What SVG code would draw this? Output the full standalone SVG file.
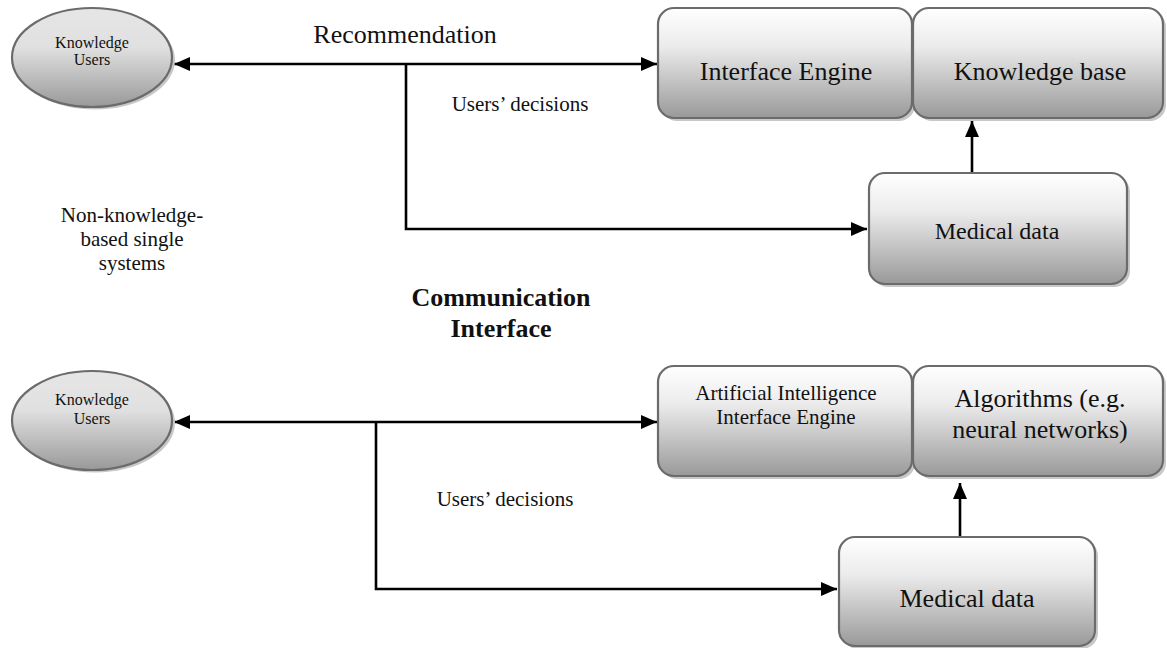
<svg xmlns="http://www.w3.org/2000/svg" width="1167" height="648" viewBox="0 0 1167 648">
<style>
.box{stroke:#6b6b6b;stroke-width:2.2;fill:url(#g)}
.ell{stroke:#6b6b6b;stroke-width:2.2;fill:url(#ge)}
.sh{fill:#c8c8c8}
.t{font-family:"Liberation Serif","Times New Roman",serif;fill:#111;text-anchor:middle}
.c{fill:none;stroke:#000;stroke-width:2.6}
</style>
<defs>
<linearGradient id="g" x1="0" y1="0" x2="0" y2="1">
<stop offset="0" stop-color="#ffffff"/><stop offset="0.35" stop-color="#ebebeb"/><stop offset="1" stop-color="#999999"/>
</linearGradient>
<linearGradient id="ge" x1="0" y1="0" x2="0" y2="1">
<stop offset="0" stop-color="#e6e6e6"/><stop offset="0.4" stop-color="#e0e0e0"/><stop offset="1" stop-color="#999999"/>
</linearGradient>
<marker id="a" markerUnits="userSpaceOnUse" markerWidth="16" markerHeight="14" refX="16" refY="7" orient="auto-start-reverse">
<path d="M0,0 L16,7 L0,14 z" fill="#000"/>
</marker>
</defs>
<rect width="1167" height="648" fill="#fff"/>

<g id="connectors">
<line class="c" x1="174" y1="64" x2="657" y2="64" marker-start="url(#a)" marker-end="url(#a)"/>
<polyline class="c" points="406,64 406,229 867,229" marker-end="url(#a)"/>
<line class="c" x1="972" y1="173" x2="972" y2="121" marker-end="url(#a)"/>
<line class="c" x1="174" y1="422" x2="657" y2="422" marker-start="url(#a)" marker-end="url(#a)"/>
<polyline class="c" points="376,422 376,589 837,589" marker-end="url(#a)"/>
<line class="c" x1="960" y1="537" x2="960" y2="483" marker-end="url(#a)"/>
</g>

<g id="top-users">
<ellipse class="sh" cx="95" cy="60" rx="80" ry="49.5"/>
<ellipse class="ell" cx="92" cy="57.5" rx="80" ry="49.5"/>
<text class="t" x="92" y="48" font-size="16">Knowledge</text>
<text class="t" x="92" y="65" font-size="16">Users</text>
</g>

<g id="interface-engine">
<rect class="sh" x="661" y="11" width="254" height="110" rx="16"/>
<rect class="box" x="658" y="8" width="254" height="110" rx="16"/>
<text class="t" x="786" y="80" font-size="26">Interface Engine</text>
</g>

<g id="knowledge-base">
<rect class="sh" x="916" y="11" width="250" height="110" rx="16"/>
<rect class="box" x="913" y="8" width="250" height="110" rx="16"/>
<text class="t" x="1040" y="80" font-size="26">Knowledge base</text>
</g>

<g id="top-medical">
<rect class="sh" x="872" y="176" width="258" height="111" rx="16"/>
<rect class="box" x="869" y="173" width="258" height="111" rx="16"/>
<text class="t" x="997" y="239" font-size="24">Medical data</text>
</g>

<g id="labels-top">
<text class="t" x="405" y="43" font-size="26">Recommendation</text>
<text class="t" x="520" y="111" font-size="21">Users’ decisions</text>
<text class="t" x="132" y="222" font-size="21">Non-knowledge-</text>
<text class="t" x="132" y="246" font-size="21">based single</text>
<text class="t" x="132" y="270" font-size="21">systems</text>
<text class="t" x="501" y="306" font-size="26" font-weight="bold">Communication</text>
<text class="t" x="501" y="337" font-size="26" font-weight="bold">Interface</text>
</g>

<g id="bottom-users">
<ellipse class="sh" cx="95" cy="423" rx="80" ry="49.5"/>
<ellipse class="ell" cx="92" cy="420.5" rx="80" ry="49.5"/>
<text class="t" x="92" y="405" font-size="16">Knowledge</text>
<text class="t" x="92" y="424" font-size="16">Users</text>
</g>

<g id="ai-engine">
<rect class="sh" x="661" y="369" width="254" height="110" rx="16"/>
<rect class="box" x="658" y="366" width="254" height="110" rx="16"/>
<text class="t" x="786" y="400" font-size="21">Artificial Intelligence</text>
<text class="t" x="786" y="424" font-size="21">Interface Engine</text>
</g>

<g id="algorithms">
<rect class="sh" x="916" y="369" width="250" height="110" rx="16"/>
<rect class="box" x="913" y="366" width="250" height="110" rx="16"/>
<text class="t" x="1040" y="407" font-size="26">Algorithms (e.g.</text>
<text class="t" x="1040" y="438" font-size="26">neural networks)</text>
</g>

<g id="bottom-medical">
<rect class="sh" x="842" y="540" width="256" height="109" rx="16"/>
<rect class="box" x="839" y="537" width="256" height="109" rx="16"/>
<text class="t" x="967" y="607" font-size="26">Medical data</text>
</g>

<g id="labels-bottom">
<text class="t" x="505" y="506" font-size="21">Users’ decisions</text>
</g>
</svg>
